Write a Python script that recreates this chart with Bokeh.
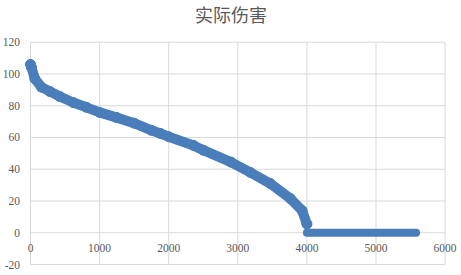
from bokeh.plotting import figure
from bokeh.models import Range1d, ColumnDataSource, LabelSet, Label
from bokeh.embed import file_html
from bokeh.resources import INLINE

# ---- data ----
title_text = "实际伤害"
curve_x = [0, 15, 63, 159, 279, 424, 618, 810, 1000, 1250, 1500, 1750, 1880, 2000, 2360,
           2500, 2900, 3180, 3470, 3760, 3930, 4000]
curve_y = [106, 104, 97, 91.7, 89, 85.8, 82, 79, 75.8, 72.5, 69, 64.5, 62.5, 60.5, 55,
           52, 44.5, 38, 31, 21.5, 14, 5.5]
tail_x = [4000, 5580]
tail_y = [0, 0]
x_ticks = [0, 1000, 2000, 3000, 4000, 5000, 6000]
x_tick_labels = ["0", "1000", "2000", "3000", "4000", "5000", "6000"]
y_ticks = [-20, 0, 20, 40, 60, 80, 100, 120]
y_tick_labels = ["-20", "0", "20", "40", "60", "80", "100", "120"]

BLUE = "#4a7ebb"
GRID = "#d9d9d9"
TXT = "#595959"
FONT = "Lato"

# ---- layout: the frame fills the whole canvas; plot box placed by pixel geometry ----
W, H = 461, 275
BOX_L, BOX_R = 30.0, 444.6      # px of x=0 and x=6000
BOX_T, BOX_B = 41.7, 264.0      # px of y=120 and y=-20
sx = (BOX_R - BOX_L) / (x_ticks[-1] - x_ticks[0])
sy = (BOX_B - BOX_T) / (y_ticks[-1] - y_ticks[0])
x0 = x_ticks[0] - BOX_L / sx
x1 = x_ticks[0] + (W - BOX_L) / sx
y1 = y_ticks[-1] + BOX_T / sy
y0 = y_ticks[0] - (H - BOX_B) / sy

p = figure(width=W, height=H, output_backend="svg", toolbar_location=None, title=None,
           x_range=Range1d(x0, x1), y_range=Range1d(y0, y1),
           x_axis_location=None, y_axis_location=None,
           min_border=0, min_border_left=0, min_border_right=0,
           min_border_top=0, min_border_bottom=0)
p.background_fill_color = "white"
p.border_fill_color = "white"
p.outline_line_color = None
p.xgrid.visible = False
p.ygrid.visible = False

# grid lines of the plot box
p.segment(x0=x_ticks, x1=x_ticks, y0=[y_ticks[0]] * len(x_ticks), y1=[y_ticks[-1]] * len(x_ticks),
          line_color=GRID, line_width=1)
p.segment(x0=[x_ticks[0]] * len(y_ticks), x1=[x_ticks[-1]] * len(y_ticks), y0=y_ticks, y1=y_ticks,
          line_color=GRID, line_width=1)

# curve
p.line(curve_x, curve_y, line_width=10, line_color=BLUE, line_join="round", line_cap="round")
p.scatter(curve_x, curve_y, size=10, fill_color=BLUE, line_color=BLUE)
p.line(tail_x, tail_y, line_width=8, line_color=BLUE, line_cap="round")

# tick labels (x labels sit just under the y=0 line)
x_label_y = -15.0 / sy
xsrc = ColumnDataSource(dict(x=x_ticks, y=[x_label_y] * len(x_ticks), t=x_tick_labels))
p.add_layout(LabelSet(x="x", y="y", text="t", source=xsrc, text_align="center",
                      text_baseline="middle", text_font=FONT, text_font_size="11.5px",
                      text_color=TXT))
ysrc = ColumnDataSource(dict(x=[x_ticks[0]] * len(y_ticks), y=y_ticks, t=y_tick_labels))
p.add_layout(LabelSet(x="x", y="y", text="t", source=ysrc, text_align="right",
                      text_baseline="middle", x_offset=-10.5, text_font=FONT,
                      text_font_size="11.5px", text_color=TXT))

# title
p.add_layout(Label(x=(W / 2 - BOX_L) / sx, y=y_ticks[-1] + (BOX_T - 13.5) / sy, text=title_text,
                   text_align="center", text_baseline="middle",
                   text_font="Noto Sans CJK SC", text_font_size="18px", text_color=TXT))

open("out.html", "w").write(file_html(p, INLINE))
